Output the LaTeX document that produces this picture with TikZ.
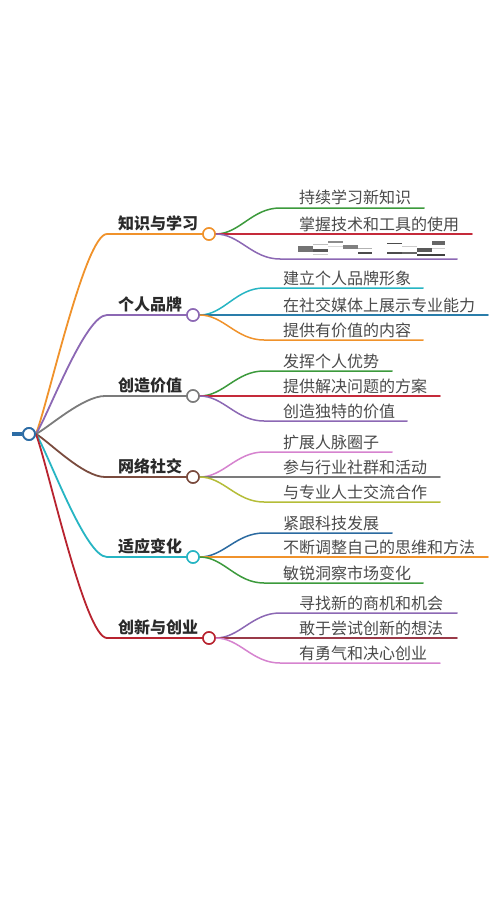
\documentclass[tikz,border=0pt]{standalone}
\usepackage{fontspec}
\newfontfamily\cjk{Noto Sans CJK SC}
\usetikzlibrary{calc}
\definecolor{cOrange}{HTML}{F0922B}
\definecolor{cPurple}{HTML}{8C68B4}
\definecolor{cGray}{HTML}{7B7B7B}
\definecolor{cBrown}{HTML}{7A4B3E}
\definecolor{cCyan}{HTML}{26B5C3}
\definecolor{cRed}{HTML}{B8232F}
\definecolor{cGreen}{HTML}{3C9A3C}
\definecolor{cLeafRed}{HTML}{C52A3A}
\definecolor{cTeal}{HTML}{2A7DAA}
\definecolor{cBlue}{HTML}{2B6AA0}
\definecolor{cPink}{HTML}{D683CF}
\definecolor{cYG}{HTML}{B5BD38}
\definecolor{cDarkRed}{HTML}{9A3A48}
\definecolor{cRoot}{HTML}{2C6CA5}
\definecolor{cMainText}{HTML}{2A2A2A}
\definecolor{cLeafText}{HTML}{4A4A4A}
\tikzset{
  mainline/.style={line width=1.8pt, line cap=round},
  leafline/.style={line width=1.5pt, line cap=round},
  bcirc/.style={circle, minimum size=12pt, inner sep=0pt, line width=1.5pt, fill=white, draw},
  btext/.style={anchor=base west, inner sep=0pt, font=\cjk\bfseries\fontsize{16pt}{19pt}\selectfont, text=cMainText},
  ltext/.style={anchor=base west, inner sep=0pt, font=\cjk\fontsize{16pt}{19pt}\selectfont, text=cLeafText},
  bar/.style={fill=#1, draw=none}
}
\begin{document}
\begin{tikzpicture}[x=1pt,y=-1pt]
\useasboundingbox (0,0) rectangle (500,904);
\fill[white] (0,0) rectangle (500,904);

% root
\coordinate (stub) at (12,434);
\node[bcirc, draw=cRoot, line width=1.8pt] (root) at (29,434) {};
\draw[cRoot, line width=3.5pt] (stub) -- (root.west);

% knee coordinates of main branches
\coordinate (k1) at (107,234);
\coordinate (k2) at (107,315);
\coordinate (k3) at (105,396);
\coordinate (k4) at (105,477);
\coordinate (k5) at (107,557);
\coordinate (k6) at (107,638);

% branch circles positions
\coordinate (p1) at (209,234);
\coordinate (p2) at (193,315);
\coordinate (p3) at (193,396);
\coordinate (p4) at (193,477);
\coordinate (p5) at (193,557);
\coordinate (p6) at (209,638);

% main connectors
\draw[mainline, cOrange] (root.east) .. controls +(12,-30) and +(-22,0) .. (k1) -- (p1);
\draw[mainline, cPurple] (root.east) .. controls +(12,-18) and +(-22,0) .. (k2) -- (p2);
\draw[mainline, cGray]   (root.east) .. controls +(12,-6) and +(-22,0) .. (k3) -- (p3);
\draw[mainline, cBrown]  (root.east) .. controls +(12,6.5) and +(-22,0) .. (k4) -- (p4);
\draw[mainline, cCyan]   (root.east) .. controls +(12,18) and +(-22,0) .. (k5) -- (p5);
\draw[mainline, cRed]    (root.east) .. controls +(12,31) and +(-22,0) .. (k6) -- (p6);

% branch circles
\node[bcirc, draw=cOrange] (b1) at (p1) {};
\node[bcirc, draw=cPurple] (b2) at (p2) {};
\node[bcirc, draw=cGray]   (b3) at (p3) {};
\node[bcirc, draw=cBrown]  (b4) at (p4) {};
\node[bcirc, draw=cCyan]   (b5) at (p5) {};
\node[bcirc, draw=cRed]    (b6) at (p6) {};

% branch texts
\node[btext] (t1) at (118,229) {知识与学习};
\node[btext] (t2) at (118,310) {个人品牌};
\node[btext] (t3) at (118,391) {创造价值};
\node[btext] (t4) at (118,472) {网络社交};
\node[btext] (t5) at (118,552) {适应变化};
\node[btext] (t6) at (118,633) {创新与创业};

% ---------- leaves: branch 1
\coordinate (c11) at (280,208); \coordinate (e11) at (424,208);
\coordinate (e12) at (472,234);
\coordinate (c13) at (280,259); \coordinate (e13) at (457,259);
\draw[leafline, cGreen]   (b1.east) .. controls +(24,0) and +(-28,0) .. (c11) -- (e11);
\draw[leafline, cLeafRed] (b1.east) -- (e12);
\draw[leafline, cPurple]  (b1.east) .. controls +(24,0) and +(-28,0) .. (c13) -- (e13);
\node[ltext] (l11) at (299,204) {持续学习新知识};
\node[ltext] (l12) at (299,230) {掌握技术和工具的使用};
% illegible third label (blurred in the source)
\fill[bar=black!55] (298,246) rectangle (313,251.7);
\fill[bar=black!65] (313,248.7) rectangle (328,251.7);
\fill[bar=black!25] (313,244.3) rectangle (328,245.3);
\fill[bar=black!20] (313,254.3) rectangle (328,255.3);
\fill[bar=black!45] (328,241) rectangle (343,242.7);
\fill[bar=black!15] (328,246) rectangle (343,247);
\fill[bar=black!50] (343,245.3) rectangle (358,249.3);
\fill[bar=black!30] (358,247.7) rectangle (372,248.7);
\fill[bar=black!70] (358,252) rectangle (372,253.7);
\fill[bar=black!70] (386.7,242.7) rectangle (401.7,244);
\fill[bar=black!70] (386.7,252) rectangle (401.7,253.7);
\fill[bar=black!20] (401.7,246) rectangle (416.7,247);
\fill[bar=black!60] (401.7,252) rectangle (416.7,253.7);
\fill[bar=black!65] (416.7,247.7) rectangle (431.7,252);
\fill[bar=black!75] (416.7,254.3) rectangle (445,256);
\fill[bar=black!60] (431.7,241) rectangle (445,245.3);
\fill[bar=black!20] (431.7,247.7) rectangle (445,249);

% ---------- leaves: branch 2
\coordinate (c21) at (264,288); \coordinate (e21) at (423,288);
\coordinate (e22) at (488,315);
\coordinate (c23) at (264,340); \coordinate (e23) at (423,340);
\draw[leafline, cCyan]   (b2.east) .. controls +(24,0) and +(-28,0) .. (c21) -- (e21);
\draw[leafline, cTeal]   (b2.east) -- (e22);
\draw[leafline, cOrange] (b2.east) .. controls +(24,0) and +(-28,0) .. (c23) -- (e23);
\node[ltext] (l21) at (283,284) {建立个人品牌形象};
\node[ltext] (l22) at (283,311) {在社交媒体上展示专业能力};
\node[ltext] (l23) at (283,336) {提供有价值的内容};

% ---------- leaves: branch 3
\coordinate (c31) at (264,371); \coordinate (e31) at (392,371);
\coordinate (e32) at (440,396);
\coordinate (c33) at (264,421); \coordinate (e33) at (407,421);
\draw[leafline, cGreen]   (b3.east) .. controls +(24,0) and +(-28,0) .. (c31) -- (e31);
\draw[leafline, cLeafRed] (b3.east) -- (e32);
\draw[leafline, cPurple]  (b3.east) .. controls +(24,0) and +(-28,0) .. (c33) -- (e33);
\node[ltext] (l31) at (283,367) {发挥个人优势};
\node[ltext] (l32) at (283,392) {提供解决问题的方案};
\node[ltext] (l33) at (283,417) {创造独特的价值};

% ---------- leaves: branch 4
\coordinate (c41) at (264,452); \coordinate (e41) at (392,452);
\coordinate (e42) at (440,477);
\coordinate (c43) at (264,502); \coordinate (e43) at (440,502);
\draw[leafline, cPink]  (b4.east) .. controls +(24,0) and +(-28,0) .. (c41) -- (e41);
\draw[leafline, cGray]  (b4.east) -- (e42);
\draw[leafline, cYG]    (b4.east) .. controls +(24,0) and +(-28,0) .. (c43) -- (e43);
\node[ltext] (l41) at (283,448) {扩展人脉圈子};
\node[ltext] (l42) at (283,473) {参与行业社群和活动};
\node[ltext] (l43) at (283,498) {与专业人士交流合作};

% ---------- leaves: branch 5
\coordinate (c51) at (264,533); \coordinate (e51) at (392,533);
\coordinate (e52) at (488,557);
\coordinate (c53) at (264,583); \coordinate (e53) at (423,583);
\draw[leafline, cBlue]   (b5.east) .. controls +(24,0) and +(-28,0) .. (c51) -- (e51);
\draw[leafline, cOrange] (b5.east) -- (e52);
\draw[leafline, cGreen]  (b5.east) .. controls +(24,0) and +(-28,0) .. (c53) -- (e53);
\node[ltext] (l51) at (283,529) {紧跟科技发展};
\node[ltext] (l52) at (283,553) {不断调整自己的思维和方法};
\node[ltext] (l53) at (283,579) {敏锐洞察市场变化};

% ---------- leaves: branch 6
\coordinate (c61) at (280,613); \coordinate (e61) at (457,613);
\coordinate (e62) at (457,638);
\coordinate (c63) at (280,663); \coordinate (e63) at (440,663);
\draw[leafline, cPurple]  (b6.east) .. controls +(24,0) and +(-28,0) .. (c61) -- (e61);
\draw[leafline, cDarkRed] (b6.east) -- (e62);
\draw[leafline, cPink]    (b6.east) .. controls +(24,0) and +(-28,0) .. (c63) -- (e63);
\node[ltext] (l61) at (299,609) {寻找新的商机和机会};
\node[ltext] (l62) at (299,634) {敢于尝试创新的想法};
\node[ltext] (l63) at (299,659) {有勇气和决心创业};

% redraw circles on top of leaf lines
\node[bcirc, draw=cOrange] at (p1) {};
\node[bcirc, draw=cPurple] at (p2) {};
\node[bcirc, draw=cGray]   at (p3) {};
\node[bcirc, draw=cBrown]  at (p4) {};
\node[bcirc, draw=cCyan]   at (p5) {};
\node[bcirc, draw=cRed]    at (p6) {};
\node[bcirc, draw=cRoot, line width=1.8pt] at (root) {};
\end{tikzpicture}
\end{document}
